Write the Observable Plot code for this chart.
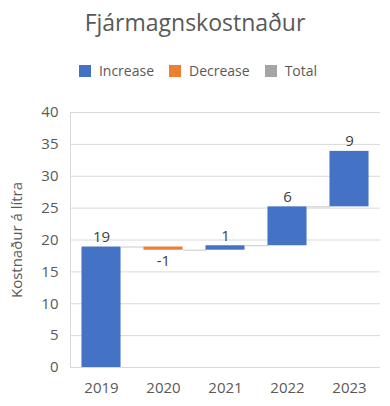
<!DOCTYPE html>
<html>
<head>
<meta charset="utf-8">
<script src="https://cdn.jsdelivr.net/npm/d3@7"></script>
<script src="https://cdn.jsdelivr.net/npm/@observablehq/plot@0.6"></script>
<style>
  html, body { margin: 0; padding: 0; background: #fff; }
  body { width: 390px; height: 406px; position: relative; overflow: hidden; font-family: "Open Sans", sans-serif; }
  #title { position: absolute; left: 0; top: 4px; width: 390px; text-align: center; font-size: 23px; color: #595959; line-height: 36px; }
  #legend { position: absolute; left: 0; top: 61px; width: 390px; display: flex; justify-content: center; align-items: center; gap: 15px; font-size: 14px; color: #595959; line-height: 20px; padding-left: 6px; box-sizing: border-box; }
  .item { display: flex; align-items: center; gap: 8px; }
  .sw { width: 12px; height: 12px; display: inline-block; }
  #chart { position: absolute; left: 0; top: 95px; }
</style>
</head>
<body>
<div id="title">Fjármagnskostnaður</div>
<div id="legend"></div>
<div id="chart"></div>
<script>
const years = ["2019", "2020", "2021", "2022", "2023"];
const changes = [18.9, -0.5, 0.7, 6.1, 8.7];
const barLabels = ["19", "-1", "1", "6", "9"];
const yTicks = [0, 5, 10, 15, 20, 25, 30, 35, 40];
const legendKinds = ["Increase", "Decrease", "Total"];
const legendColors = ["#4472c4", "#ed7d31", "#a5a5a5"];

const colorOf = Object.fromEntries(legendKinds.map((k, i) => [k, legendColors[i]]));
const cum = Array.from(d3.cumsum(changes));
const rows = years.map((year, i) => ({
  i, year, change: changes[i], start: cum[i] - changes[i], end: cum[i],
  label: barLabels[i], kind: changes[i] >= 0 ? "Increase" : "Decrease"
}));
const half = 0.315;
const links = rows.slice(0, -1).map(d => ({x1: d.i + half, x2: d.i + 1 - half, y: d.end}));

const legend = document.getElementById("legend");
legendKinds.forEach((k, i) => {
  const it = document.createElement("span");
  it.className = "item";
  it.innerHTML = `<span class="sw" style="background:${legendColors[i]}"></span><span>${k}</span>`;
  legend.appendChild(it);
});

const chart = Plot.plot({
  width: 390,
  height: 311,
  marginTop: 17,
  marginBottom: 39,
  marginLeft: 70,
  marginRight: 10,
  style: {fontFamily: "Open Sans", fontSize: "15px", color: "#595959", background: "transparent"},
  x: {domain: [-0.5, 4.5], ticks: rows.map(d => d.i), tickFormat: i => years[i], tickSize: 0, tickPadding: 15, label: null},
  y: {domain: [0, 40], ticks: yTicks, tickSize: 0, tickPadding: 12, label: "Kostnaður á lítra", labelAnchor: "center", labelArrow: "none", labelOffset: 59},
  marks: [
    Plot.ruleY(yTicks, {stroke: "#d9d9d9", strokeOpacity: 1}),
    Plot.ruleX([-0.5], {stroke: "#d9d9d9", strokeOpacity: 1}),
    Plot.link(links, {x1: "x1", x2: "x2", y1: "y", y2: "y", stroke: "#c8c8c8", strokeWidth: 1}),
    Plot.rectY(rows, {x1: d => d.i - half, x2: d => d.i + half, y1: "start", y2: "end", fill: d => colorOf[d.kind]}),
    Plot.text(rows.filter(d => d.change >= 0), {x: "i", y: "end", text: "label", lineAnchor: "bottom", dy: -5, fill: "#404040", fontSize: 15}),
    Plot.text(rows.filter(d => d.change < 0), {x: "i", y: "end", text: "label", lineAnchor: "top", dy: 5, fill: "#404040", fontSize: 15})
  ]
});
document.getElementById("chart").appendChild(chart);
</script>
</body>
</html>
